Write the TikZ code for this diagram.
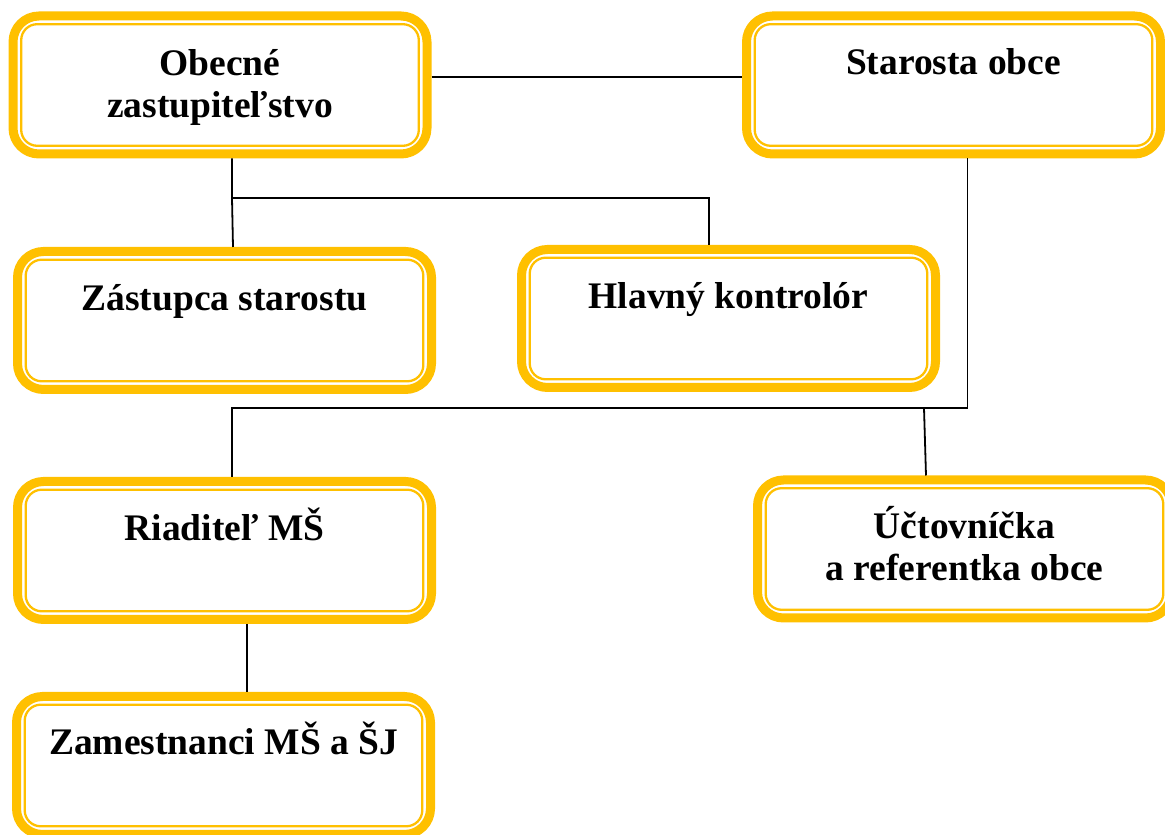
\documentclass[tikz,border=0pt]{standalone}
\usepackage{fontspec}
\setmainfont{Liberation Serif}
\usetikzlibrary{calc}
\definecolor{gold}{HTML}{FFC000}
\tikzset{
  box/.style={draw=gold, line width=9pt, rounded corners=26pt, minimum width=414pt, minimum height=138pt, inner sep=0pt, fill=white},
  innerline/.style={draw=gold, line width=2.3pt, rounded corners=16pt},
  lbl/.style={font=\bfseries\fontsize{37.5}{42}\selectfont, align=center, inner sep=0pt, anchor=base},
  conn/.style={draw=black, line width=1.8pt}
}
\begin{document}
\begin{tikzpicture}[x=1pt,y=1pt]
\useasboundingbox (0,0) rectangle (1165,835);
% boxes
\node[box] (oz) at (220,750) {};
\node[box] (st) at (953.5,750) {};
\node[box] (zs) at (224.5,514.5) {};
\node[box] (hk) at (728.5,516.5) {};
\node[box] (rm) at (224.5,284.5) {};
\node[box] (uc) at (964.5,286) {};
\node[box] (zm) at (223.5,69.5) {};
\foreach \n in {oz,st,zs,hk,rm,uc,zm}{
  \draw[innerline] ([shift={(12.7pt,12.7pt)}]\n.south west) rectangle ([shift={(-12.7pt,-12.7pt)}]\n.north east);
}
% texts
\node[lbl] at ([yshift=-33pt]oz.center) {Obecné\\zastupiteľstvo};
\node[lbl] at ([yshift=10pt]st.center) {Starosta obce};
\node[lbl] at ([yshift=9.5pt]zs.center) {Zástupca starostu};
\node[lbl] at ([yshift=9.5pt]hk.center) {Hlavný kontrolór};
\node[lbl] at ([yshift=9.5pt]rm.center) {Riaditeľ MŠ};
\node[lbl] at ([yshift=-32pt]uc.center) {Účtovníčka\\a referentka obce};
\node[lbl] at ([yshift=11pt]zm.center) {Zamestnanci MŠ a ŠJ};
% junctions
\coordinate (j1) at (232,637);
\coordinate (j2) at (709,637);
\coordinate (j3) at (232,427);
\coordinate (j4) at (924,427);
% connectors
\draw[conn] ([yshift=8pt]oz.east) -- ([yshift=8pt]st.west);
\draw[conn] ([xshift=12pt]oz.south) -- (j1) -- ([xshift=8.5pt]zs.north);
\draw[conn] (j1) -- (j2) -- (j2 |- hk.north);
\draw[conn] ([xshift=14pt]st.south) |- (j3) -- (j3 |- rm.north);
\draw[conn] (j4) -- ([xshift=-38.5pt]uc.north);
\draw[conn] ([xshift=22.5pt]rm.south) -- ([xshift=23.5pt]zm.north);
\end{tikzpicture}
\end{document}
